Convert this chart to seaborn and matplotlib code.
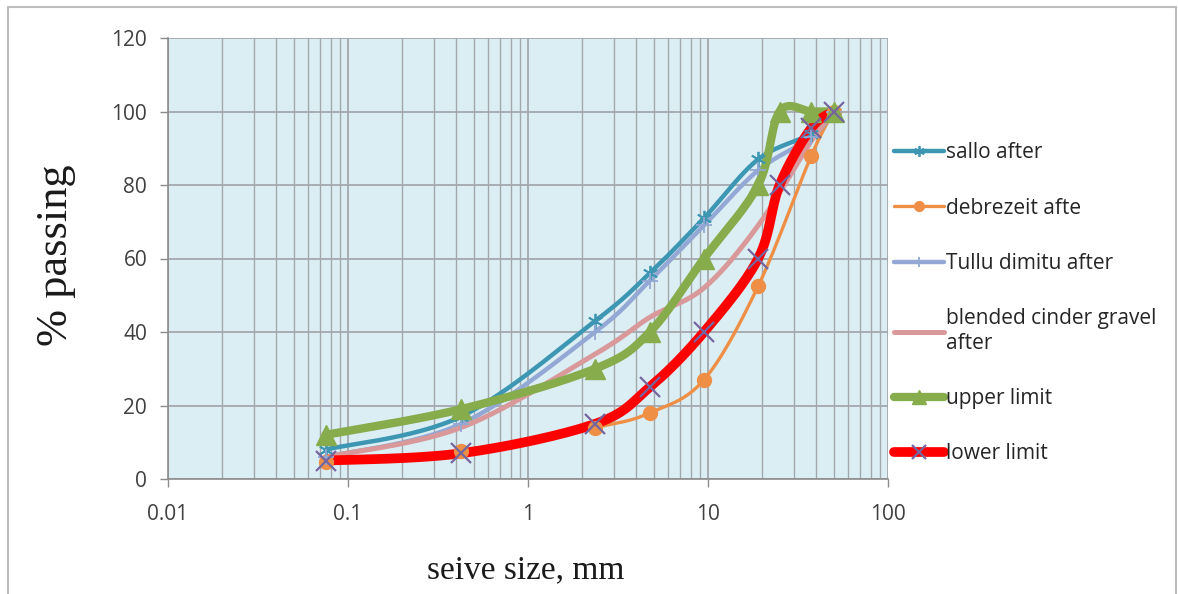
import numpy as np
import matplotlib
matplotlib.use("Agg")
import matplotlib.pyplot as plt
from matplotlib.lines import Line2D
import seaborn as sns

# ---------------- data ----------------
sieve_full = [0.075, 0.425, 2.36, 4.75, 9.5, 19, 25, 37.5, 50]
sieve_std = [0.075, 0.425, 2.36, 4.75, 9.5, 19, 37.5, 50]

sallo_after = [8, 17, 43, 56, 71, 87, 94, 100]
debrezeit_after = [4.5, 7.5, 14, 18, 27, 52.5, 88, 100]
tullu_after = [6, 15, 40, 54, 69, 84, 93, 100]
blended_after = [6, 14, 34, 44, 52, 69, 92, 100]
upper_limit = [12, 19, 30, 40, 60, 80, 100, 100, 100]
lower_limit = [5, 7, 15, 25, 40, 60, 80, 95.5, 100]

labels = ["sallo after", "debrezeit afte", "Tullu dimitu after",
          "blended cinder gravel\nafter", "upper limit", "lower limit"]

x_ticks = [0.01, 0.1, 1, 10, 100]
x_tick_labels = ["0.01", "0.1", "1", "10", "100"]
y_ticks = [0, 20, 40, 60, 80, 100, 120]

# ---------------- helpers ----------------
def smooth(xs, ys, n=30):
    """Excel-like smoothed line (Catmull-Rom in log-x space)."""
    lx = np.log10(np.asarray(xs, float))
    y = np.asarray(ys, float)
    P = np.column_stack([lx, y])
    P = np.vstack([P[0], P, P[-1]])
    out = []
    for i in range(1, len(P) - 2):
        p0, p1, p2, p3 = P[i - 1], P[i], P[i + 1], P[i + 2]
        t = np.linspace(0, 1, n, endpoint=False)[:, None]
        c = 0.5 * ((2 * p1) + (-p0 + p2) * t + (2 * p0 - 5 * p1 + 4 * p2 - p3) * t ** 2
                   + (-p0 + 3 * p1 - 3 * p2 + p3) * t ** 3)
        out.append(c)
    out.append(P[-2][None, :])
    c = np.vstack(out)
    return 10 ** c[:, 0], c[:, 1]

# ---------------- figure ----------------
sns.set_theme(style="white")
plt.rcParams["font.family"] = ["Open Sans", "DejaVu Sans"]

fig = plt.figure(figsize=(11.78, 5.94), dpi=100)
ax = fig.add_axes([168 / 1178, 1 - 479 / 594, 720 / 1178, 441 / 594])
ax.set_facecolor("#DBEEF4")

series = [
    dict(x=sieve_std, y=sallo_after, color="#3D97B3", lw=3.2, marker=(6, 2, 0), ms=11, mc="#3D97B3", mew=1.3),
    dict(x=sieve_std, y=debrezeit_after, color="#EE8F45", lw=2.4, marker="o", ms=10, mc="#EE8F45", mew=1),
    dict(x=sieve_std, y=tullu_after, color="#93A8D4", lw=3.2, marker="+", ms=11, mc="#93A8D4", mew=1.3),
    dict(x=sieve_std, y=blended_after, color="#D9999A", lw=3.6, marker=None, ms=0, mc="#D9999A", mew=1),
    dict(x=sieve_full, y=upper_limit, color="#86AC4B", lw=6, marker="^", ms=14, mc="#86AC4B", mew=1),
    dict(x=sieve_full, y=lower_limit, color="#FF0000", lw=7, marker="x", ms=15, mc="#7566A0", mew=1.6),
]

handles = []
for s, lab in zip(series, labels):
    sx, sy = smooth(s["x"], s["y"])
    sns.lineplot(x=sx, y=sy, ax=ax, color=s["color"], lw=s["lw"], sort=False,
                 estimator=None, solid_capstyle="round", zorder=3)
    if s["marker"] is not None:
        ax.plot(s["x"], s["y"], linestyle="none", marker=s["marker"], markersize=s["ms"],
                color=s["mc"], markeredgewidth=s["mew"], zorder=4)
    handles.append(Line2D([], [], color=s["color"], lw=s["lw"],
                          marker=s["marker"] if s["marker"] is not None else None,
                          markersize=s["ms"] * 0.7, markerfacecolor=s["mc"],
                          markeredgecolor=s["mc"], markeredgewidth=s["mew"]))

ax.set_xscale("log")
ax.set_xlim(0.01, 100)
ax.set_ylim(0, 120)
ax.set_xticks(x_ticks)
ax.set_xticklabels(x_tick_labels)
ax.set_yticks(y_ticks)

ax.grid(True, which="major", axis="both", color="#A3A8AC", lw=1.3)
ax.grid(True, which="minor", axis="x", color="#A3A8AC", lw=1.0)
ax.set_axisbelow(True)

for side in ["top", "right"]:
    ax.spines[side].set_visible(False)
for side in ["left", "bottom"]:
    ax.spines[side].set_color("#8C8C8C")
    ax.spines[side].set_linewidth(1.2)

ax.tick_params(axis="both", which="major", direction="out", length=6, width=1,
               color="#8C8C8C", labelsize=15, labelcolor="#404040",
               left=True, bottom=True)
ax.tick_params(axis="x", which="minor", length=0)
ax.tick_params(axis="x", pad=12)
ax.tick_params(axis="y", pad=9)

ax.set_xlabel("seive size, mm", fontfamily="Liberation Serif", fontsize=24,
              color="#1a1a1a")
ax.xaxis.set_label_coords((526 - 168) / 720, (479 - 555) / 441)
ax.set_ylabel("% passing", fontfamily="Liberation Serif", fontsize=32,
              color="#1a1a1a")
ax.yaxis.set_label_coords((76 - 168) / 720, (479 - 255) / 441)

fig.legend(handles, labels, loc="upper left", bbox_to_anchor=(886 / 1178, 1 - 134 / 594),
           frameon=False, fontsize=15, handlelength=2.4, handletextpad=0.1,
           labelspacing=1.65, borderaxespad=0, labelcolor="#262626")

# outer chart border
for xs_, ys_ in [([8, 8], [7, 594]), ([8, 1176], [7, 7]), ([1176, 1176], [7, 594])]:
    fig.add_artist(Line2D([x / 1178 for x in xs_], [1 - y / 594 for y in ys_],
                          color="#BDBDBD", lw=1.5, transform=fig.transFigure))

fig.savefig("out.png", dpi=100)
